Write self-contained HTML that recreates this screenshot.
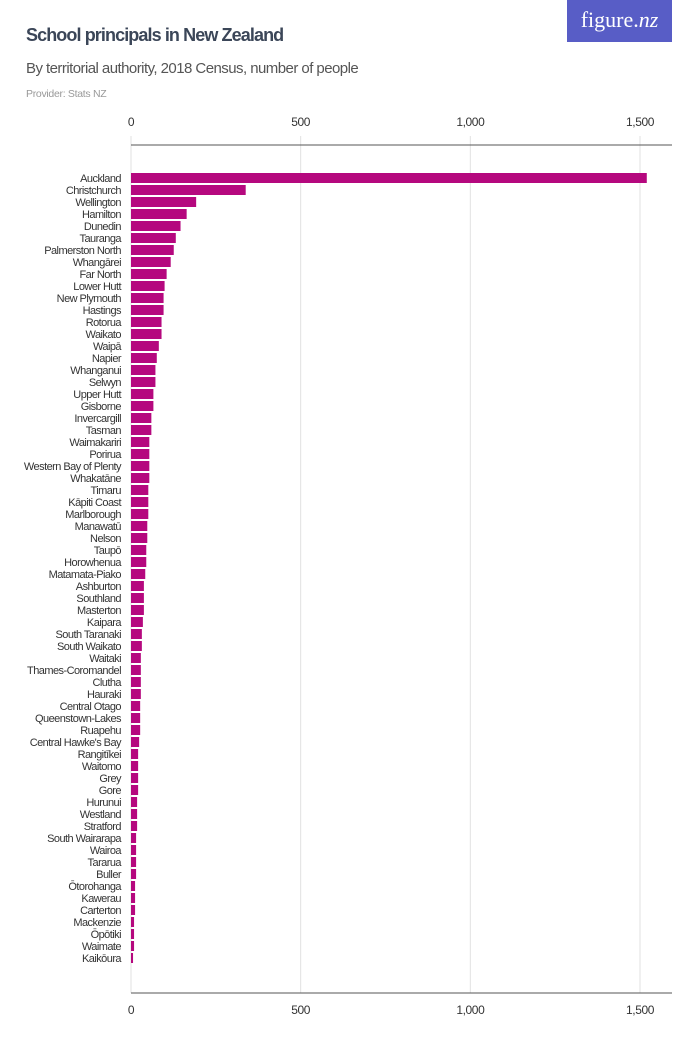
<!DOCTYPE html>
<html><head><meta charset="utf-8"><style>
body{margin:0;background:#fff;width:700px;height:1050px;overflow:hidden;font-family:"Liberation Sans",sans-serif}
#title{position:absolute;left:26px;top:25px;font-size:18px;font-weight:bold;color:#3b4658;letter-spacing:-0.9px}
#sub{position:absolute;left:26px;top:60px;font-size:15px;color:#555;letter-spacing:-0.55px}
#prov{position:absolute;left:26px;top:88px;font-size:10.5px;color:#999;letter-spacing:-0.3px}
#logo{position:absolute;left:567px;top:0;width:105px;height:42px;background:#585dc6;color:#fff;font-family:"Liberation Serif",serif;font-size:22px;text-align:center;line-height:40px}
svg{position:absolute;left:0;top:0}
svg text{font-family:"Liberation Sans",sans-serif;font-size:11px;fill:#333;letter-spacing:-0.55px}
svg text.tick{font-size:12px;letter-spacing:-0.4px}
</style></head><body>
<div id="title">School principals in New Zealand</div>
<div id="sub">By territorial authority, 2018 Census, number of people</div>
<div id="prov">Provider: Stats NZ</div>
<div id="logo">figure.<i>nz</i></div>
<svg id="chart" width="700" height="1050"></svg>
<script>
const categories=["Auckland","Christchurch","Wellington","Hamilton","Dunedin","Tauranga","Palmerston North","Whangārei","Far North","Lower Hutt","New Plymouth","Hastings","Rotorua","Waikato","Waipā","Napier","Whanganui","Selwyn","Upper Hutt","Gisborne","Invercargill","Tasman","Waimakariri","Porirua","Western Bay of Plenty","Whakatāne","Timaru","Kāpiti Coast","Marlborough","Manawatū","Nelson","Taupō","Horowhenua","Matamata-Piako","Ashburton","Southland","Masterton","Kaipara","South Taranaki","South Waikato","Waitaki","Thames-Coromandel","Clutha","Hauraki","Central Otago","Queenstown-Lakes","Ruapehu","Central Hawke's Bay","Rangitīkei","Waitomo","Grey","Gore","Hurunui","Westland","Stratford","South Wairarapa","Wairoa","Tararua","Buller","Ōtorohanga","Kawerau","Carterton","Mackenzie","Ōpōtiki","Waimate","Kaikōura"];
const values=[1520,338,192,164,146,132,126,117,105,99,96,96,90,90,82,76,72,72,66,66,60,60,54,54,54,54,51,51,51,48,48,45,45,42,38,38,38,35,32,32,29,29,29,29,27,27,27,24,21,21,21,21,18,18,18,15,15,15,15,12,12,12,9,9,9,6];
const ticks=[0,500,1000,1500];
const tickLabels=["0","500","1,000","1,500"];
const svg=document.getElementById('chart');
const NS='http://www.w3.org/2000/svg';
const x=v=>131+v*(509/1500);
const y=i=>173+i*12;
function mk(t,a){const e=document.createElementNS(NS,t);for(const k in a)e.setAttribute(k,a[k]);svg.appendChild(e);return e;}
ticks.forEach((t,i)=>{
  const g=mk('line',{x1:x(t),x2:x(t),y1:136,y2:993,stroke:'#e2e2e2','stroke-width':1});
  
  
  [122,1010].forEach(yy=>{
    const l=mk('text',{x:x(t),y:yy+4,'text-anchor':'middle','class':'tick'});
    l.textContent=tickLabels[i];
    
    
  });
});
[145,993].forEach(yy=>{
  const a=mk('line',{x1:131,x2:672,y1:yy,y2:yy,stroke:'#555','stroke-width':1});
  
  
});
categories.forEach((c,i)=>{
  const r=mk('rect',{x:131,y:y(i),width:x(values[i])-131,height:10,fill:'#b5087e'});
  
  
  const t=mk('text',{x:121,y:y(i)+9,'text-anchor':'end'});
  t.textContent=c;
  
  
});
</script>
</body></html>
